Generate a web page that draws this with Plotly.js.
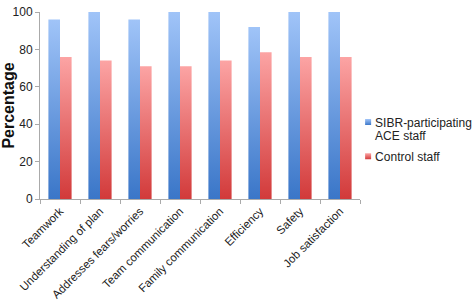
<!DOCTYPE html>
<html>
<head>
<meta charset="utf-8">
<script src="https://cdn.plot.ly/plotly-3.0.1.min.js"></script>
<style>html,body{margin:0;padding:0;background:#fff;}</style>
</head>
<body>
<div id="chart" style="width:472px;height:302px;"></div>
<script>
var categories = ["Teamwork","Understanding of plan","Addresses fears/worries","Team communication","Family communication","Efficiency","Safety","Job satisfaction"];
var sibrValues = [96, 100, 96, 100, 100, 92, 100, 100];
var controlValues = [76, 74, 71, 71, 74, 78.5, 76, 76];
var seriesNames = ["SIBR-participating<br>ACE staff", "Control staff"];
var yTicks = [0, 20, 40, 60, 80, 100];

var traces = [
  {type:"bar", x:categories, y:sibrValues, name:seriesNames[0], marker:{color:"#6a9de6"}},
  {type:"bar", x:categories, y:controlValues, name:seriesNames[1], marker:{color:"#e86a6a"}}
];
var layout = {
  width:472, height:302,
  margin:{l:40, r:112, t:12, b:103, pad:0, autoexpand:false},
  paper_bgcolor:"#fff", plot_bgcolor:"#fff",
  font:{family:"Liberation Sans, Arial, sans-serif", color:"#222", size:12},
  barmode:"group", bargap:0.42, bargroupgap:0,
  showlegend:true,
  legend:{xref:"container", yref:"container", x:0.71, y:0.643, xanchor:"left", yanchor:"top", valign:"top",
    font:{size:12, color:"#222"}, itemwidth:30, tracegroupgap:9, bgcolor:"rgba(0,0,0,0)"},
  xaxis:{type:"category", automargin:false, showline:true, linecolor:"#aaa", linewidth:1, ticks:"outside", tickson:"boundaries", ticklen:4, tickcolor:"#aaa", tickangle:-45, tickfont:{size:11.5, color:"#222"}, showgrid:false, zeroline:false},
  yaxis:{range:[0,100], automargin:false, tickvals:yTicks, showline:true, linecolor:"#aaa", linewidth:1, ticks:"outside", ticklen:4, tickcolor:"#aaa", tickfont:{size:12, color:"#222"}, showgrid:false, zeroline:false,
    title:{text:"<b>Percentage</b>", font:{size:16, color:"#111"}, standoff:3}}
};
Plotly.newPlot("chart", traces, layout, {displayModeBar:false, staticPlot:true}).then(function(gd){
  var svgNS = "http://www.w3.org/2000/svg";
  var svg = gd.querySelector(".main-svg");
  var defs = svg.querySelector("defs");
  function grad(id, top, bottom){
    var g = document.createElementNS(svgNS, "linearGradient");
    g.setAttribute("id", id); g.setAttribute("x1","0"); g.setAttribute("y1","0"); g.setAttribute("x2","0"); g.setAttribute("y2","1");
    var s1 = document.createElementNS(svgNS, "stop"); s1.setAttribute("offset","0"); s1.setAttribute("stop-color", top);
    var s2 = document.createElementNS(svgNS, "stop"); s2.setAttribute("offset","1"); s2.setAttribute("stop-color", bottom);
    g.appendChild(s1); g.appendChild(s2); defs.appendChild(g);
  }
  grad("gBlue", "#a0c4f8", "#3a76c8");
  grad("gRed", "#fca4a4", "#d23a3a");
  var ids = ["gBlue","gRed"];
  gd.querySelectorAll(".barlayer .trace.bars").forEach(function(t, i){
    t.querySelectorAll("path").forEach(function(p){ p.style.fill = "url(#" + ids[i] + ")"; });
  });
  gd.querySelectorAll(".legend .traces").forEach(function(t, i){
    t.querySelectorAll(".legendpoints path").forEach(function(p){
      p.setAttribute("d", "M3,3H-3V-3H3Z");
      p.setAttribute("transform", "translate(33,0)");
      p.style.fill = "url(#" + ids[i] + ")";
      p.style.stroke = "none";
    });
  });
  gd.querySelectorAll(".legend .legendtext tspan.line").forEach(function(ts){
    var dy = ts.getAttribute("dy");
    if (dy && parseFloat(dy) > 0) ts.setAttribute("dy", "1.1em");
  });
});
</script>
</body>
</html>
